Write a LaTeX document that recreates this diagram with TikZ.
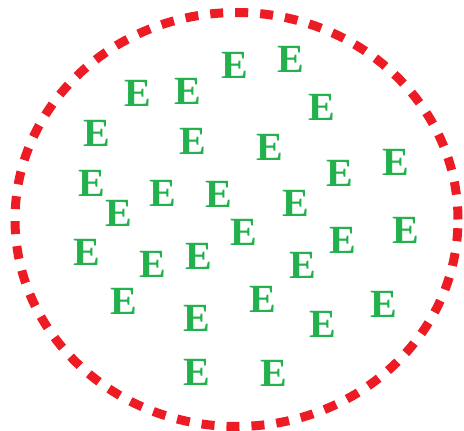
\documentclass[tikz,border=0pt]{standalone}
\usepackage{fontspec}
\setmainfont{Liberation Serif}
\usepackage{tikz}
\usepackage{xcolor}
\definecolor{ringred}{RGB}{237,28,36}
\definecolor{letgreen}{RGB}{34,177,76}

\begin{document}
\begin{tikzpicture}[x=1pt, y=-1pt,
    letter/.style={text=letgreen, font=\fontsize{40}{40}\selectfont\bfseries, inner sep=0pt},
    ring/.style={draw=ringred, line width=9pt, dash pattern=on 13pt off 12pt}]
\useasboundingbox (0,0) rectangle (464,431);

% Boundary
\coordinate (centre) at (236.5,219.5);
\draw[ring] (centre) ellipse (221.5pt and 207pt);

% Letters
\node[letter] (e1) at (138,93) {E};
\node[letter] (e2) at (188,91) {E};
\node[letter] (e3) at (235,65) {E};
\node[letter] (e4) at (291,59) {E};
\node[letter] (e5) at (322,107) {E};
\node[letter] (e6) at (97,133) {E};
\node[letter] (e7) at (193,141) {E};
\node[letter] (e8) at (270,147) {E};
\node[letter] (e9) at (340,173) {E};
\node[letter] (e10) at (396,162) {E};
\node[letter] (e11) at (92,183) {E};
\node[letter] (e12) at (163,193) {E};
\node[letter] (e13) at (219,194) {E};
\node[letter] (e14) at (296,203) {E};
\node[letter] (e15) at (119,213) {E};
\node[letter] (e16) at (244,232) {E};
\node[letter] (e17) at (343,240) {E};
\node[letter] (e18) at (406,230) {E};
\node[letter] (e19) at (87,252) {E};
\node[letter] (e20) at (153,264) {E};
\node[letter] (e21) at (199,256) {E};
\node[letter] (e22) at (303,265) {E};
\node[letter] (e23) at (124,301) {E};
\node[letter] (e24) at (263,299) {E};
\node[letter] (e25) at (323,324) {E};
\node[letter] (e26) at (384,304) {E};
\node[letter] (e27) at (197,318) {E};
\node[letter] (e28) at (197,372) {E};
\node[letter] (e29) at (274,373) {E};

\end{tikzpicture}
\end{document}
